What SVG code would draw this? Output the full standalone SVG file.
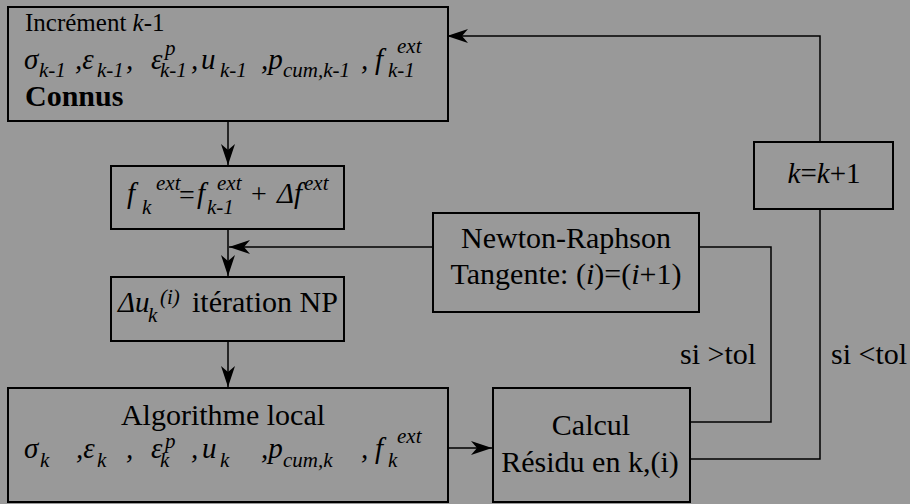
<svg xmlns="http://www.w3.org/2000/svg" width="910" height="504" viewBox="0 0 910 504" font-family="'Liberation Serif', 'DejaVu Serif', serif">
<defs>
<style>
.box{fill:#999999;stroke:#000;stroke-width:2}
.ln{fill:none;stroke:#000;stroke-width:1.5}
text{font-family:'Liberation Serif','DejaVu Serif',serif;fill:#000}
.t{font-size:30px}
.m{font-size:29px;font-style:italic}
.s{font-size:21px;font-style:italic}
.c{text-anchor:middle}
</style>
<marker id="ah" markerUnits="userSpaceOnUse" markerWidth="22" markerHeight="14" refX="21" refY="7" orient="auto">
<path d="M0,0 L21,7 L0,14 L6,7 Z" fill="#000"/>
</marker>
</defs>
<rect x="0" y="0" width="910" height="504" fill="#999999"/>

<g id="connectors">
<path class="ln" d="M228,121 L228,165" marker-end="url(#ah)"/>
<path class="ln" d="M228,229 L228,276" marker-end="url(#ah)"/>
<path class="ln" d="M433,247 L229,247" marker-end="url(#ah)"/>
<path class="ln" d="M228,341 L228,387" marker-end="url(#ah)"/>
<path class="ln" d="M448,448 L492,448" marker-end="url(#ah)"/>
<path class="ln" d="M690,422 L771,422 L771,247 L699,247"/>
<path class="ln" d="M690,459 L820,459 L820,209"/>
<path class="ln" d="M820,142 L820,36 L447,36" marker-end="url(#ah)"/>
<text class="t" x="680" y="364">si &gt;tol</text>
<text class="t" x="831" y="364">si &lt;tol</text>
</g>

<g id="increment">
<rect class="box" x="8" y="7" width="440" height="114"/>
<text x="25" y="31" style="font-size:25px">Incrément <tspan font-style="italic">k</tspan>-1</text>
<text class="m" x="24" y="69">σ</text><text class="s" x="39" y="77">k-1</text>
<text class="m" x="75" y="69">,ε</text><text class="s" x="97" y="77">k-1</text>
<text class="m" x="126" y="69">,</text>
<text class="m" x="151" y="69">ε</text><text class="s" x="165" y="55">p</text><text class="s" x="160" y="77">k-1</text>
<text class="m" x="191" y="69">,</text>
<text class="m" x="201" y="69">u</text><text class="s" x="220" y="77">k-1</text>
<text class="m" x="261" y="69">,p</text><text class="s" x="283" y="77">cum,k-1</text>
<text class="m" x="361" y="69">,</text>
<text class="m" x="375" y="69">f</text><text class="s" x="397" y="53">ext</text><text class="s" x="388" y="77">k-1</text>
<text x="25" y="106" style="font-size:30px;font-weight:bold">Connus</text>
</g>

<g id="fext">
<rect class="box" x="111" y="166" width="233" height="63"/>
<text class="m" x="127" y="203">f</text><text class="s" x="156" y="190">ext</text><text class="s" x="142" y="214">k</text>
<text x="179" y="204" style="font-size:28px">=</text>
<text class="m" x="197" y="203">f</text><text class="s" x="217" y="190">ext</text><text class="s" x="207" y="214">k-1</text>
<text x="251" y="203" style="font-size:28px">+</text>
<text class="m" x="277" y="203">Δf</text><text class="s" x="304" y="190">ext</text>
</g>

<g id="iteration">
<rect class="box" x="111" y="277" width="233" height="64"/>
<text class="m" x="118" y="312">Δu</text><text class="s" x="160" y="304">(i)</text><text class="s" x="148" y="322">k</text>
<text class="t" x="192" y="312">itération NP</text>
</g>

<g id="algo">
<rect class="box" x="8" y="388" width="440" height="114"/>
<text class="t c" x="223" y="425">Algorithme local</text>
<text class="m" x="24" y="458">σ</text><text class="s" x="40" y="467">k</text>
<text class="m" x="76" y="458">,ε</text><text class="s" x="97" y="467">k</text>
<text class="m" x="126" y="458">,</text>
<text class="m" x="151" y="458">ε</text><text class="s" x="165" y="448">p</text><text class="s" x="160" y="467">k</text>
<text class="m" x="191" y="458">,</text>
<text class="m" x="202" y="458">u</text><text class="s" x="220" y="467">k</text>
<text class="m" x="261" y="458">,p</text><text class="s" x="283" y="467">cum,k</text>
<text class="m" x="361" y="458">,</text>
<text class="m" x="375" y="458">f</text><text class="s" x="397" y="443">ext</text><text class="s" x="388" y="467">k</text>
</g>

<g id="newton">
<rect class="box" x="433" y="213" width="266" height="99"/>
<text class="t c" x="566" y="248">Newton-Raphson</text>
<text class="t c" x="566" y="284">Tangente: (<tspan font-style="italic">i</tspan>)=(<tspan font-style="italic">i</tspan>+1)</text>
</g>

<g id="calcul">
<rect class="box" x="493" y="388" width="197" height="114"/>
<text class="t c" x="591" y="435">Calcul</text>
<text class="t c" x="590" y="472">Résidu en k,(i)</text>
</g>

<g id="kplus">
<rect class="box" x="754" y="142" width="139" height="67"/>
<text class="c" x="824" y="183" style="font-size:29px"><tspan font-style="italic">k</tspan>=<tspan font-style="italic">k</tspan>+1</text>
</g>
</svg>
